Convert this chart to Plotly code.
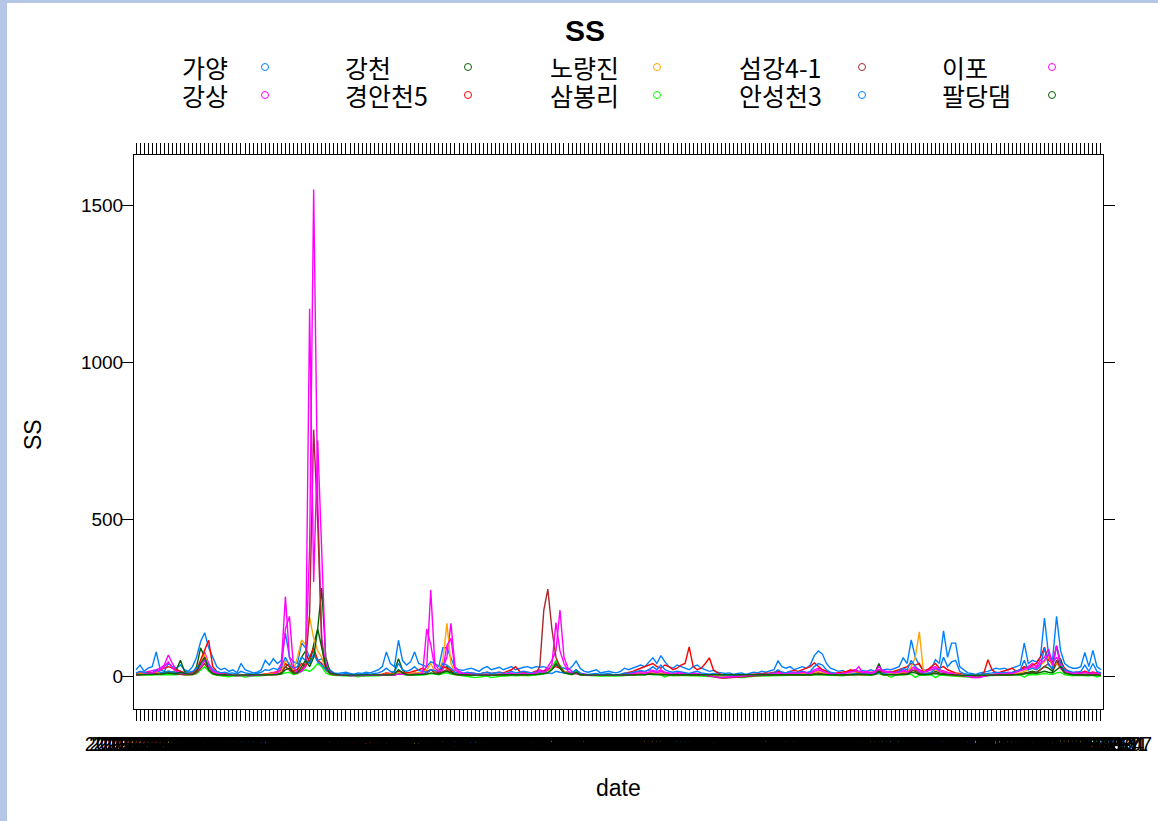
import plotly.graph_objects as go
import pandas as pd

# ---------------- categories (dates, one per measurement) ----------------
dates = pd.date_range("2013-01-07", periods=240, freq="7D").strftime("%Y-%m-%d").tolist()

# ---------------- series values (SS) ----------------
gayang = [
    20, 35, 15, 25, 30, 77, 20, 15, 40, 30, 25, 35, 20, 15, 30, 60, 110, 138, 90, 60,
    30, 20, 25, 15, 20, 10, 40, 20, 15, 10, 12, 20, 50, 35, 55, 40, 50, 137, 60, 45,
    40, 105, 90, 60, 80, 50, 55, 40, 20, 10, 8, 10, 12, 8, 6, 10, 8, 12, 10, 15,
    20, 30, 77, 40, 30, 114, 50, 35, 45, 77, 40, 35, 30, 45, 40, 30, 90, 90, 60, 25,
    20, 18, 22, 25, 20, 15, 25, 30, 20, 25, 28, 20, 25, 30, 20, 25, 28, 30, 25, 30,
    28, 30, 25, 20, 35, 30, 25, 20, 30, 48, 25, 15, 12, 15, 20, 10, 12, 15, 12, 10,
    15, 25, 20, 25, 30, 35, 30, 45, 58, 40, 65, 45, 30, 25, 35, 30, 25, 20, 30, 35,
    25, 20, 15, 18, 12, 10, 8, 10, 5, 8, 10, 5, 8, 12, 10, 15, 12, 15, 20, 48,
    30, 25, 30, 20, 25, 30, 25, 35, 65, 80, 70, 40, 25, 20, 15, 18, 12, 15, 20, 15,
    18, 15, 20, 15, 18, 20, 22, 20, 25, 30, 58, 40, 115, 60, 35, 20, 15, 25, 52, 40,
    144, 60, 105, 105, 30, 20, 10, 8, 5, 10, 12, 15, 20, 25, 22, 25, 20, 25, 30, 35,
    105, 40, 50, 45, 60, 185, 70, 50, 190, 80, 40, 30, 25, 25, 30, 75, 30, 82, 30, 20,
]

gangsang = [
    5, 8, 10, 12, 15, 20, 25, 35, 67, 40, 20, 15, 10, 8, 10, 20, 45, 77, 40, 20,
    10, 8, 5, 3, 2, 2, 3, 2, 2, 3, 2, 3, 5, 8, 10, 15, 40, 253, 60, 20,
    15, 20, 40, 407, 1550, 560, 120, 30, 15, 8, 5, 3, 2, 2, 1, 2, 1, 2, 2, 3,
    3, 5, 8, 5, 4, 10, 8, 5, 6, 10, 8, 15, 30, 274, 40, 20, 25, 60, 168, 30,
    15, 10, 8, 6, 5, 4, 5, 6, 4, 5, 6, 5, 8, 10, 6, 8, 10, 8, 10, 15,
    20, 15, 30, 50, 80, 210, 60, 25, 15, 10, 8, 5, 4, 3, 2, 3, 2, 3, 2, 2,
    3, 5, 8, 10, 12, 15, 12, 20, 18, 15, 20, 12, 10, 8, 10, 12, 8, 6, 10, 8,
    6, 4, 2, 0, -5, -6, -5, -4, 0, 2, 3, 2, 3, 4, 5, 6, 5, 8, 10, 12,
    10, 8, 10, 12, 10, 15, 12, 10, 20, 25, 20, 15, 10, 8, 10, 8, 12, 15, 20, 15,
    12, 15, 10, 15, 20, 18, 15, 15, 12, 15, 20, 15, 25, 30, 20, 15, 20, 25, 30, 20,
    15, 12, 10, 8, 5, 2, 0, -5, -6, -5, 0, 3, 5, 8, 10, 8, 12, 10, 15, 20,
    25, 30, 40, 30, 50, 60, 86, 40, 60, 30, 20, 15, 10, 12, 10, 15, 10, 12, 10, 8,
]

gangcheon = [
    5, 6, 5, 8, 6, 10, 8, 12, 15, 12, 20, 50, 15, 10, 8, 30, 90, 60, 30, 12,
    6, 4, 3, 2, 2, 2, 3, 2, 2, 2, 2, 3, 4, 5, 6, 8, 12, 30, 40, 15,
    20, 60, 80, 40, 100, 150, 280, 60, 15, 8, 5, 3, 2, 2, 2, 2, 2, 2, 2, 3,
    3, 4, 8, 6, 15, 55, 20, 8, 6, 5, 5, 6, 10, 20, 15, 10, 25, 30, 15, 8,
    5, 4, 4, 3, 3, 3, 3, 4, 3, 3, 4, 3, 4, 5, 4, 5, 5, 4, 5, 6,
    8, 10, 15, 25, 48, 30, 15, 10, 8, 20, 6, 4, 3, 3, 2, 2, 2, 2, 2, 2,
    2, 3, 4, 5, 6, 8, 6, 10, 8, 6, 8, 6, 5, 4, 5, 6, 5, 4, 5, 4,
    3, 2, 2, 1, 1, 1, 1, 1, 1, 2, 2, 2, 2, 3, 3, 3, 3, 4, 5, 6,
    5, 4, 5, 6, 5, 6, 5, 5, 8, 10, 8, 6, 5, 4, 5, 4, 5, 6, 8, 10,
    6, 8, 5, 10, 40, 8, 6, 6, 5, 8, 10, 8, 20, 15, 8, 6, 8, 10, 15, 10,
    8, 6, 5, 4, 3, 2, 2, 1, 1, 1, 2, 2, 3, 4, 5, 4, 6, 5, 6, 8,
    10, 12, 15, 12, 20, 30, 25, 15, 40, 55, 15, 8, 5, 6, 5, 6, 5, 6, 5, 4,
]

gyeongan5 = [
    8, 10, 8, 12, 10, 15, 20, 25, 30, 25, 20, 15, 10, 8, 10, 20, 50, 80, 114, 30,
    15, 10, 8, 5, 4, 3, 5, 3, 4, 3, 4, 5, 6, 8, 10, 12, 20, 40, 30, 15,
    20, 40, 30, 60, 90, 50, 40, 20, 10, 6, 4, 3, 3, 2, 2, 3, 2, 3, 3, 4,
    5, 6, 10, 8, 10, 15, 12, 10, 12, 15, 20, 25, 15, 20, 15, 12, 30, 25, 20, 10,
    8, 6, 8, 10, 8, 6, 10, 12, 8, 10, 12, 10, 15, 20, 30, 15, 10, 12, 10, 15,
    12, 15, 20, 25, 30, 25, 15, 10, 8, 10, 6, 5, 4, 5, 4, 3, 4, 3, 4, 3,
    5, 8, 10, 15, 20, 25, 30, 35, 40, 30, 25, 35, 30, 20, 25, 35, 40, 93, 30, 20,
    25, 40, 58, 20, 10, 5, 3, 2, 1, 2, 3, 2, 3, 4, 5, 6, 8, 10, 12, 15,
    12, 10, 15, 18, 15, 20, 25, 30, 42, 30, 20, 15, 10, 8, 10, 12, 15, 20, 15, 10,
    8, 10, 12, 10, 15, 12, 10, 12, 15, 20, 25, 30, 40, 35, 40, 15, 20, 30, 40, 25,
    30, 20, 15, 10, 8, 5, 3, 2, 2, 3, 10, 52, 20, 10, 12, 15, 20, 25, 15, 20,
    30, 25, 35, 40, 60, 92, 50, 40, 96, 45, 25, 15, 10, 12, 10, 15, 10, 12, 8, 6,
]

noryangjin = [
    5, 6, 8, 6, 8, 10, 8, 10, 15, 12, 10, 8, 6, 5, 8, 15, 40, 70, 30, 10,
    6, 5, 4, 3, 3, 3, 4, 3, 3, 3, 3, 4, 5, 6, 8, 10, 15, 50, 40, 20,
    60, 115, 100, 188, 120, 80, 60, 20, 8, 5, 4, 3, 3, 3, 3, 3, 3, 3, 3, 4,
    4, 5, 6, 5, 6, 10, 8, 6, 8, 10, 10, 12, 20, 40, 15, 20, 50, 168, 40, 10,
    6, 5, 5, 4, 4, 4, 5, 5, 4, 5, 6, 5, 6, 8, 6, 8, 8, 6, 8, 10,
    12, 10, 15, 25, 40, 30, 15, 10, 8, 10, 5, 4, 3, 3, 3, 3, 3, 3, 3, 3,
    3, 4, 5, 6, 8, 10, 8, 12, 10, 8, 10, 8, 6, 5, 6, 8, 6, 5, 6, 5,
    4, 3, 2, 2, 1, 1, 1, 1, 2, 2, 2, 2, 3, 3, 3, 4, 4, 5, 6, 8,
    6, 5, 6, 8, 6, 8, 6, 8, 12, 15, 10, 8, 6, 5, 6, 5, 6, 8, 10, 8,
    6, 8, 6, 8, 12, 8, 8, 8, 6, 8, 12, 10, 30, 60, 141, 20, 10, 12, 20, 15,
    12, 10, 8, 6, 4, 3, 2, 2, 2, 2, 3, 4, 5, 6, 8, 6, 8, 10, 8, 10,
    15, 20, 25, 20, 35, 45, 62, 30, 40, 25, 12, 8, 6, 6, 5, 6, 5, 6, 5, 4,
]

sambongri = [
    2, 3, 2, 4, 3, 5, 4, 5, 6, 5, 4, 6, 4, 3, 4, 8, 20, 30, 15, 5,
    2, 1, 0, -2, 0, 1, 0, -3, 0, 1, 0, 1, 2, 2, 3, 4, 6, 10, 12, 5,
    8, 15, 20, 15, 25, 40, 30, 10, 4, 2, 1, 0, -1, 0, 0, -2, 0, 0, -1, 0,
    1, 2, 3, 2, 3, 8, 5, 3, 2, 2, 2, 3, 5, 8, 6, 4, 8, 10, 6, 3,
    2, 1, 0, -3, -5, -4, -2, 0, -5, -3, 0, 1, 0, 2, 1, 2, 2, 1, 2, 3,
    4, 6, 10, 25, 48, 35, 12, 6, 4, 15, 3, 2, 1, 0, -1, 0, 0, -1, 0, 0,
    1, 1, 2, 3, 4, 5, 3, 6, 4, 3, 4, -3, 2, 1, 2, 3, 2, 1, 2, 1,
    0, -1, -2, -3, -4, -5, -5, -4, -3, -4, -5, -3, -2, -1, 0, 0, 1, 1, 2, 2,
    2, 1, 2, 3, 2, 3, 2, 2, 4, 5, 4, 3, 2, 1, 2, 1, 2, 3, 4, 5,
    3, 4, 2, 4, 8, 3, 2, -4, 2, 3, 4, 3, 6, -4, 3, 2, 3, 4, -5, 3,
    2, 1, 1, 0, -1, -2, -3, -2, -1, -2, 0, 1, 2, 2, 3, 2, 3, 3, 3, 4,
    -4, 4, 5, 4, 6, 8, 6, 5, 10, 12, 4, 2, 1, 2, 1, 2, 1, 2, -3, 1,
]

seomgang41 = [
    3, 4, 5, 4, 6, 8, 6, 8, 10, 8, 6, 5, 4, 4, 5, 10, 25, 40, 20, 8,
    4, 3, 2, 2, 2, 2, 2, 2, 2, 2, 2, 2, 3, 3, 4, 5, 8, 30, 20, 8,
    10, 20, 40, 200, 785, 490, 100, 20, 8, 4, 3, 2, 2, 2, 2, 2, 2, 2, 2, 2,
    2, 3, 4, 3, 4, 6, 5, 4, 4, 5, 5, 6, 10, 20, 10, 8, 15, 20, 10, 5,
    4, 3, 3, 3, 2, 2, 3, 3, 2, 3, 3, 3, 4, 5, 4, 5, 5, 4, 5, 8,
    30, 210, 277, 150, 60, 30, 12, 8, 6, 8, 4, 3, 2, 2, 2, 2, 2, 2, 2, 2,
    2, 3, 3, 4, 5, 6, 5, 8, 6, 5, 6, 5, 4, 4, 4, 5, 4, 4, 5, 4,
    3, 2, 0, -3, -5, -6, -6, -5, -4, -3, -2, -1, 0, 1, 2, 2, 2, 3, 4, 5,
    4, 3, 4, 5, 4, 5, 4, 4, 6, 8, 6, 5, 4, 3, 4, 3, 4, 5, 6, 5,
    4, 5, 4, 5, 10, 5, 4, 4, 4, 5, 8, 6, 15, 20, 10, 5, 6, 8, 10, 6,
    5, 4, 3, 2, 1, 0, -2, -3, -3, -2, 0, 2, 3, 3, 4, 3, 4, 4, 5, 6,
    8, 10, 12, 10, 20, 30, 40, 20, 50, 25, 10, 6, 4, 4, 4, 5, 4, 5, 4, 3,
]

anseong3 = [
    10, 15, 12, 8, 10, 20, 12, 10, 15, 12, 10, 8, 10, 12, 15, 25, 40, 55, 35, 20,
    15, 10, 12, 8, 10, 6, 15, 10, 8, 6, 8, 12, 20, 18, 25, 20, 30, 60, 35, 25,
    30, 60, 50, 40, 70, 45, 35, 20, 12, 8, 5, 6, 8, 5, 4, 6, 5, 8, 6, 8,
    10, 15, 25, 15, 12, 40, 20, 15, 20, 30, 18, 15, 12, 20, 18, 15, 40, 35, 25, 12,
    10, 8, 12, 10, 8, 6, 10, 12, 8, 10, 12, 8, 10, 15, 10, 12, 15, 12, 10, 12,
    12, 15, 10, 8, 15, 12, 10, 8, 12, 20, 10, 6, 5, 6, 8, 5, 6, 8, 5, 4,
    6, 10, 8, 12, 15, 18, 15, 20, 30, 20, 35, 20, 15, 12, 15, 12, 10, 8, 12, 15,
    10, 8, 6, 8, 5, 4, 3, 4, 2, 3, 4, 2, 3, 5, 4, 6, 5, 8, 10, 20,
    12, 10, 15, 10, 12, 15, 10, 15, 30, 40, 35, 20, 12, 8, 6, 8, 5, 6, 8, 6,
    8, 6, 10, 8, 10, 8, 10, 12, 10, 15, 25, 20, 50, 30, 15, 10, 8, 12, 25, 20,
    60, 30, 45, 50, 15, 8, 5, 4, 3, 5, 6, 8, 10, 12, 10, 12, 10, 12, 15, 20,
    50, 20, 25, 20, 30, 90, 35, 25, 95, 40, 20, 15, 12, 12, 15, 35, 15, 40, 15, 10,
]

ipo = [
    3, 5, 6, 8, 10, 15, 20, 30, 45, 25, 15, 10, 8, 6, 8, 15, 30, 50, 30, 15,
    8, 6, 4, 2, 2, 1, 2, 2, 1, 2, 2, 2, 3, 5, 6, 10, 25, 150, 190, 30,
    10, 15, 30, 1170, 300, 750, 380, 40, 12, 6, 4, 2, 2, 1, 1, 1, 1, 2, 1, 2,
    2, 3, 5, 3, 3, 6, 5, 4, 5, 6, 6, 10, 150, 100, 25, 15, 20, 97, 120, 20,
    10, 8, 6, 5, 4, 3, 4, 5, 3, 4, 5, 4, 6, 8, 5, 6, 8, 6, 8, 10,
    15, 12, 20, 35, 170, 80, 40, 15, 10, 8, 5, 4, 3, 2, 2, 2, 1, 2, 1, 1,
    2, 3, 5, 8, 10, 10, 8, 12, 15, 10, 15, 10, 8, 6, 8, 10, 6, 5, 8, 6,
    4, 2, 0, -3, -5, -5, -4, -3, 0, 1, 2, 1, 2, 3, 4, 5, 4, 6, 8, 10,
    8, 6, 8, 10, 8, 12, 10, 8, 15, 20, 15, 10, 8, 6, 8, 6, 10, 12, 15, 30,
    10, 12, 8, 12, 30, 15, 12, 12, 10, 12, 15, 12, 20, 25, 15, 12, 15, 20, 25, 15,
    12, 10, 8, 6, 4, 1, 0, -4, -5, -4, 0, 2, 4, 6, 8, 6, 10, 8, 12, 15,
    20, 25, 30, 25, 40, 50, 70, 35, 97, 25, 15, 12, 8, 10, 8, 12, 8, 10, 8, 6,
]

paldangdam = [
    4, 4, 5, 5, 5, 6, 6, 8, 10, 8, 8, 12, 8, 6, 6, 15, 40, 60, 20, 8,
    5, 4, 3, 3, 3, 3, 3, 3, 3, 3, 3, 3, 3, 4, 4, 5, 8, 20, 25, 10,
    10, 30, 50, 30, 60, 150, 90, 30, 10, 6, 4, 3, 3, 3, 3, 3, 3, 3, 3, 3,
    3, 3, 5, 4, 6, 20, 10, 5, 4, 4, 4, 4, 6, 10, 8, 6, 12, 15, 10, 6,
    4, 4, 3, 3, 3, 3, 3, 3, 3, 3, 3, 3, 3, 4, 3, 4, 4, 3, 4, 5,
    6, 8, 10, 20, 40, 25, 10, 8, 6, 12, 5, 4, 3, 3, 3, 3, 3, 3, 3, 3,
    3, 3, 3, 4, 4, 5, 4, 6, 5, 4, 5, 4, 4, 3, 4, 4, 4, 3, 4, 3,
    3, 3, 2, 2, 2, 2, 2, 2, 2, 2, 2, 2, 2, 2, 2, 3, 3, 3, 4, 4,
    4, 3, 4, 4, 4, 4, 4, 4, 5, 6, 5, 4, 4, 3, 4, 3, 4, 4, 5, 6,
    5, 5, 4, 6, 15, 5, 4, 4, 4, 5, 6, 5, 12, 10, 5, 4, 5, 6, 8, 6,
    5, 4, 4, 3, 3, 2, 2, 2, 2, 2, 2, 2, 3, 3, 4, 3, 4, 4, 4, 5,
    6, 8, 10, 8, 12, 15, 12, 10, 20, 30, 10, 6, 4, 4, 4, 4, 4, 4, 4, 3,
]

station_names = ["가양", "강상", "강천", "경안천5", "노량진", "삼봉리", "섬강4-1", "안성천3", "이포", "팔당댐"]
station_values = [gayang, gangsang, gangcheon, gyeongan5, noryangjin, sambongri, seomgang41, anseong3, ipo, paldangdam]
station_colors = ["#0080ff", "#ff00ff", "#006400", "#ff0000", "#ffa500", "#00ff00", "#a52a2a", "#0080ff", "#ff00ff", "#006400"]

y_ticks = [0, 500, 1000, 1500]

# ---------------- figure ----------------
W, H = 1158, 821
L, R, T, B = 134, 55, 155, 112
PW, PH = W - L - R, H - T - B


def px(x):
    return (x - L) / PW


def py(y):
    return (H - B - y) / PH


FONT = "Liberation Sans, Arial, Noto Sans CJK KR, sans-serif"
KFONT = "Noto Sans CJK KR, Liberation Sans, sans-serif"

fig = go.Figure()
for name, vals, col in zip(station_names, station_values, station_colors):
    assert len(vals) == len(dates), name
    fig.add_trace(go.Scatter(x=dates, y=vals, mode="lines", name=name,
                             line=dict(color=col, width=1.4), showlegend=False))

annotations = []
shapes = []

# light blue frame at left/top of the window
shapes.append(dict(type="rect", xref="paper", yref="paper", layer="below",
                   x0=px(0), x1=px(7), y0=py(H), y1=py(0),
                   fillcolor="#b4c7e7", line=dict(width=0)))
shapes.append(dict(type="rect", xref="paper", yref="paper", layer="below",
                   x0=px(0), x1=px(W), y0=py(3), y1=py(0),
                   fillcolor="#b4c7e7", line=dict(width=0)))

# title
annotations.append(dict(text="<b>SS</b>", x=px(585), y=py(31), xref="paper", yref="paper",
                        showarrow=False, xanchor="center", yanchor="middle",
                        font=dict(family=FONT, size=30, color="black")))
# axis titles
annotations.append(dict(text="date", x=px(618), y=py(788), xref="paper", yref="paper",
                        showarrow=False, xanchor="center", yanchor="middle",
                        font=dict(family=FONT, size=23, color="black")))
annotations.append(dict(text="SS", x=px(33), y=py(435), xref="paper", yref="paper",
                        showarrow=False, xanchor="center", yanchor="middle", textangle=-90,
                        font=dict(family=FONT, size=23, color="black")))

# key (text then open circle), 5 columns x 2 rows, column-major
col_text_x = [180, 343, 548, 737, 940]
col_mark_x = [265, 468, 657, 862, 1052]
row_y = [67, 95]
for k, (name, col) in enumerate(zip(station_names, station_colors)):
    c, r = k // 2, k % 2
    annotations.append(dict(text=name, x=px(col_text_x[c]), y=py(row_y[r]), xref="paper", yref="paper",
                            showarrow=False, xanchor="left", yanchor="middle",
                            font=dict(family=KFONT, size=25, color="black")))
    cx, cy, rr = col_mark_x[c], row_y[r], 3.5
    shapes.append(dict(type="circle", xref="paper", yref="paper",
                       x0=px(cx - rr), x1=px(cx + rr), y0=py(cy + rr), y1=py(cy - rr),
                       line=dict(color=col, width=1)))

fig.update_layout(
    width=W, height=H, template="none",
    margin=dict(l=L, r=R, t=T, b=B, autoexpand=False),
    paper_bgcolor="white", plot_bgcolor="white",
    showlegend=False,
    annotations=annotations, shapes=shapes,
    xaxis=dict(type="category", range=[-0.5, len(dates) - 0.5],
               tickmode="array", tickvals=dates, ticktext=dates, tickangle=0,
               ticks="outside", ticklen=11, tickwidth=1, tickcolor="black",
               ticklabelstandoff=6,
               showline=True, linecolor="black", linewidth=1, mirror="allticks",
               showgrid=False, zeroline=False, automargin=False,
               tickfont=dict(family=FONT, size=20, color="black")),
    yaxis=dict(range=[-105, 1660], tickmode="array", tickvals=y_ticks,
               ticktext=[str(v) for v in y_ticks],
               ticks="outside", ticklen=11, tickwidth=1, tickcolor="black",
               ticklabelstandoff=-5,
               showline=True, linecolor="black", linewidth=1, mirror="allticks",
               showgrid=False, zeroline=False, automargin=False,
               tickfont=dict(family=FONT, size=19, color="black")),
)

fig.write_html("out.html", config={"displayModeBar": False},
               post_script="document.body.style.margin='0px';")
